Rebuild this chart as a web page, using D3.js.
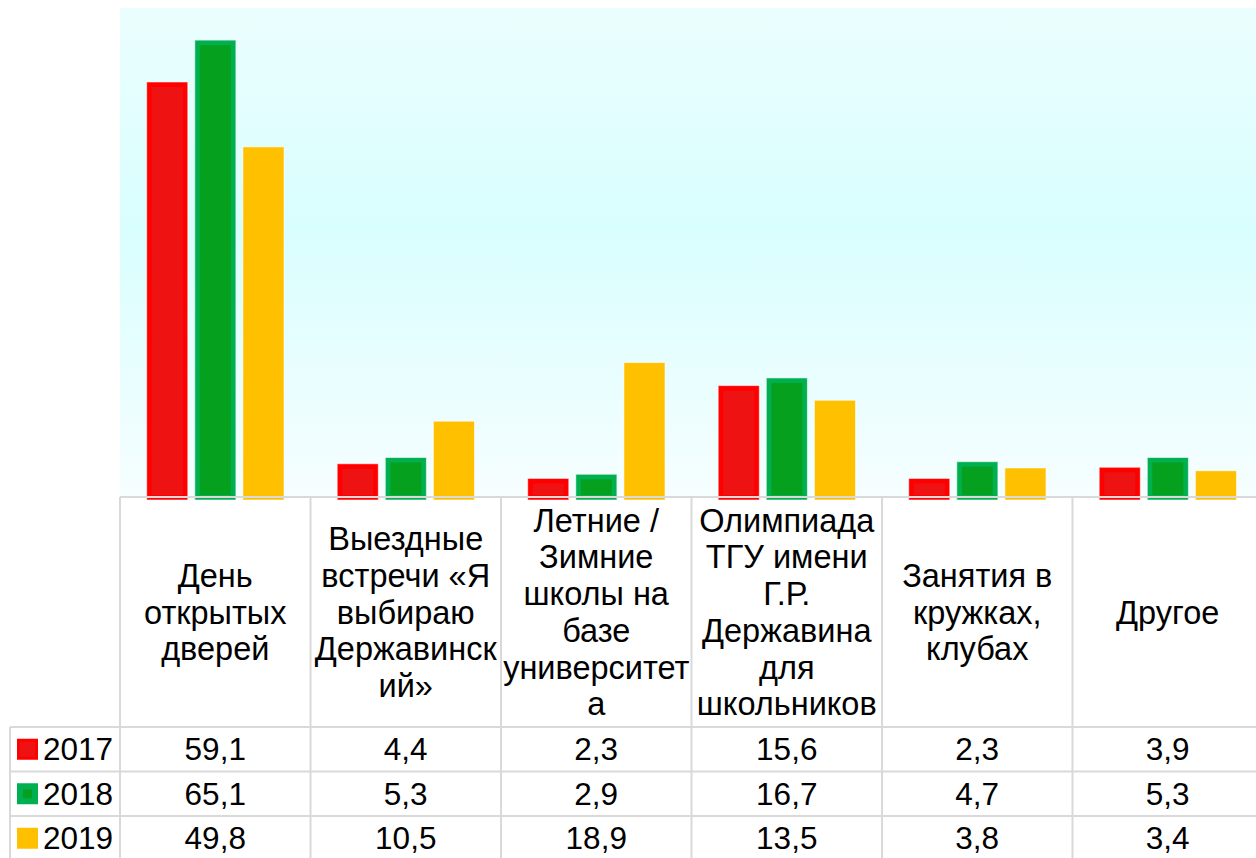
<!DOCTYPE html>
<html>
<head>
<meta charset="utf-8">
<script src="https://cdn.jsdelivr.net/npm/d3@7"></script>
<style>
  html, body { margin: 0; padding: 0; background: #ffffff; overflow: hidden; }
  svg { display: block; font-family: "Liberation Sans", Arial, sans-serif; }
</style>
</head>
<body>
<svg id="chart" width="1256" height="858"></svg>
<script>
// Categories (full names) and how each one wraps in its table header cell
const categories = [
  "День открытых дверей",
  "Выездные встречи «Я выбираю Державинский»",
  "Летние / Зимние школы на базе университета",
  "Олимпиада ТГУ имени Г.Р. Державина для школьников",
  "Занятия в кружках, клубах",
  "Другое"
];
const categoryLines = [
  ["День", "открытых", "дверей"],
  ["Выездные", "встречи «Я", "выбираю", "Державинск", "ий»"],
  ["Летние /", "Зимние", "школы на", "базе", "университет", "а"],
  ["Олимпиада", "ТГУ имени", "Г.Р.", "Державина", "для", "школьников"],
  ["Занятия в", "кружках,", "клубах"],
  ["Другое"]
];

const years = ["2017", "2018", "2019"];
const values2017 = [59.1, 4.4, 2.3, 15.6, 2.3, 3.9];
const values2018 = [65.1, 5.3, 2.9, 16.7, 4.7, 5.3];
const values2019 = [49.8, 10.5, 18.9, 13.5, 3.8, 3.4];
const seriesValues = [values2017, values2018, values2019];

// Bar colours: outer edge and inner fill per year
const outerColors = ["#FF0000", "#00B050", "#FFC000"];
const innerColors = ["#EE1212", "#05A11E", "#FFC000"];

const svg = d3.select("#chart");

const plotLeft = 120, plotRight = 1263, plotTop = 8, baseY = 497;
const headerBottom = 727, rowH = 44.5, tableLeft = 10;
const gridColor = "#D9D9D9";
const headerFont = 32.5, valueFont = 31.5, lineH = 36.7;

const x0 = d3.scaleBand().domain(categories).range([plotLeft, plotRight]).padding(0);
const x1 = d3.scaleBand().domain(years).range([26.7, 164]).paddingInner(0.146);
const y = d3.scaleLinear().domain([0, 70]).range([494.5, 494.5 - 70 * 6.98]);

// Plot background gradient
const defs = svg.append("defs");
const grad = defs.append("linearGradient")
  .attr("id", "plotBg").attr("x1", 0).attr("y1", 0).attr("x2", 0).attr("y2", 1);
grad.append("stop").attr("offset", "0%").attr("stop-color", "#EBFEFE");
grad.append("stop").attr("offset", "45%").attr("stop-color", "#D9FEFE");
grad.append("stop").attr("offset", "100%").attr("stop-color", "#F6FEFF");

svg.append("rect")
  .attr("x", plotLeft).attr("y", plotTop)
  .attr("width", plotRight - plotLeft).attr("height", baseY - plotTop)
  .attr("fill", "url(#plotBg)");

// Bars
const barData = [];
categories.forEach((c, ci) => {
  years.forEach((yr, si) => {
    barData.push({ cat: c, year: yr, si: si, value: seriesValues[si][ci] });
  });
});

const bars = svg.append("g").selectAll("g.bar").data(barData).join("g").attr("class", "bar");
const bottomY = baseY + 3;
bars.append("rect")
  .attr("x", d => x0(d.cat) + x1(d.year))
  .attr("y", d => y(d.value))
  .attr("width", x1.bandwidth())
  .attr("height", d => bottomY - y(d.value))
  .attr("fill", d => outerColors[d.si])
  .attr("stroke", "rgba(255,255,255,0.55)")
  .attr("stroke-width", 1);
bars.filter(d => d.si < 2).append("rect")
  .attr("x", d => x0(d.cat) + x1(d.year) + 5)
  .attr("y", d => y(d.value) + 5)
  .attr("width", x1.bandwidth() - 10)
  .attr("height", d => Math.max(0, baseY - 2 - (y(d.value) + 5)))
  .attr("fill", d => innerColors[d.si]);

// Table grid
const grid = svg.append("g").attr("stroke", gridColor).attr("stroke-width", 2);
grid.append("line").attr("x1", plotLeft).attr("x2", plotRight).attr("y1", baseY).attr("y2", baseY);
grid.append("line").attr("x1", tableLeft).attr("x2", plotRight).attr("y1", headerBottom).attr("y2", headerBottom);
for (let r = 1; r <= 3; r++) {
  grid.append("line").attr("x1", tableLeft).attr("x2", plotRight)
    .attr("y1", headerBottom + r * rowH).attr("y2", headerBottom + r * rowH);
}
grid.append("line").attr("x1", tableLeft).attr("x2", tableLeft).attr("y1", headerBottom).attr("y2", 858);
const bounds = categories.map(c => x0(c)).concat([plotRight]);
grid.selectAll("line.v").data(bounds).join("line").attr("class", "v")
  .attr("x1", d => d).attr("x2", d => d).attr("y1", baseY).attr("y2", 858);

// Header labels
const headerMid = (baseY + headerBottom) / 2;
categories.forEach((c, ci) => {
  const lines = categoryLines[ci];
  const t = svg.append("text")
    .attr("x", x0(c) + x0.bandwidth() / 2)
    .attr("text-anchor", "middle")
    .attr("font-size", headerFont).attr("fill", "#000");
  lines.forEach((ln, li) => {
    t.append("tspan")
      .attr("x", x0(c) + x0.bandwidth() / 2)
      .attr("y", headerMid - (lines.length - 1) / 2 * lineH + li * lineH + 11.5)
      .text(ln);
  });
});

// Data rows
years.forEach((yr, si) => {
  const rowMid = headerBottom + si * rowH + rowH / 2;
  // legend key
  svg.append("rect").attr("x", 17).attr("y", rowMid - 10.5).attr("width", 21).attr("height", 21)
    .attr("fill", outerColors[si]);
  if (si < 2) {
    const inset = si === 0 ? 3 : 6;
    svg.append("rect").attr("x", 17 + inset).attr("y", rowMid - 10.5 + inset)
      .attr("width", 21 - 2 * inset).attr("height", 21 - 2 * inset)
      .attr("fill", innerColors[si]);
  }
  svg.append("text").attr("x", 43).attr("y", rowMid + 11)
    .attr("font-size", valueFont).attr("fill", "#000").text(yr);
  svg.append("g").selectAll("text").data(categories).join("text")
    .attr("x", c => x0(c) + x0.bandwidth() / 2)
    .attr("y", rowMid + 11)
    .attr("text-anchor", "middle")
    .attr("font-size", valueFont).attr("fill", "#000")
    .text((c, ci) => d3.format(".1f")(seriesValues[si][ci]).replace(".", ","));
});
</script>
</body>
</html>
